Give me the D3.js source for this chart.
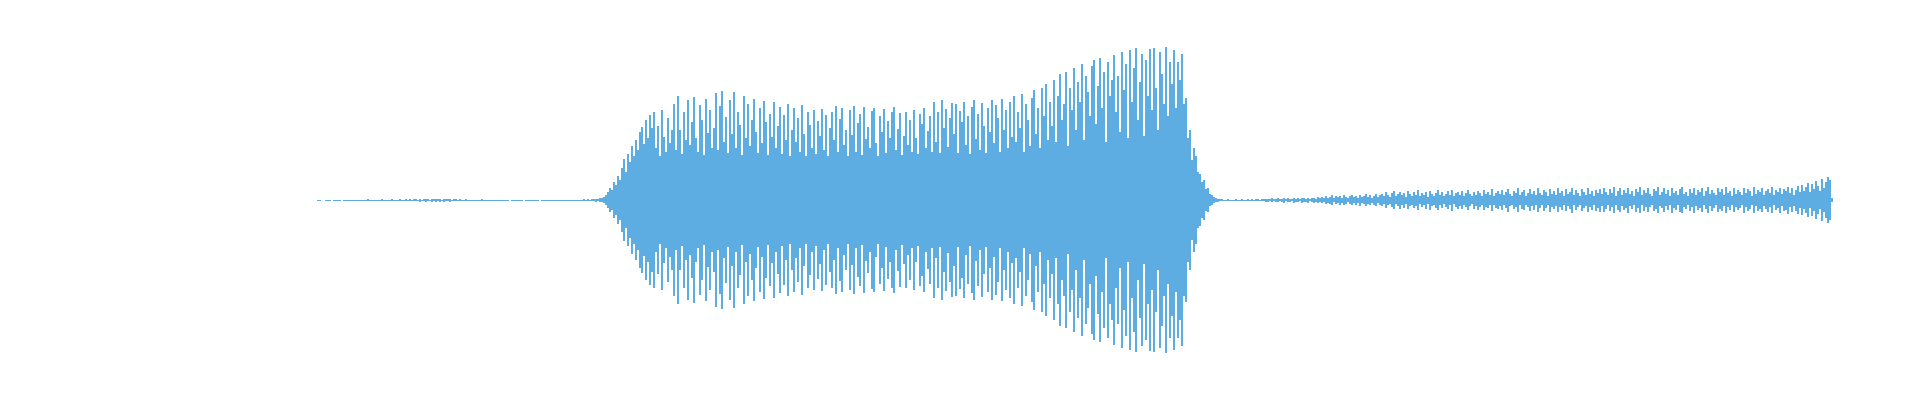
<!DOCTYPE html>
<html>
<head>
<meta charset="utf-8">
<script src="https://cdn.jsdelivr.net/npm/d3@7"></script>
<style>
  html, body { margin: 0; padding: 0; background: #ffffff; }
</style>
</head>
<body>
<div id="wave"></div>
<script>
// peak amplitude of each waveform column (px at 1:1)
var leadIn = [
    0.5, 0.5, 0, 0, 0.5, 0.5, 0.5, 0, 0.5, 0.5, 0.5, 0.5, 0, 0.5, 0.5, 0.5, 0.5, 0.5, 0.5, 0.5,
    0.5, 0.5, 0.5, 0.5, 0.5, 1, 0.5, 0.5, 0.5, 0.5, 0.5, 0.5, 1, 0.5, 0.5, 0.5, 0.5, 1, 0.5, 0.5,
    0.5, 1, 0.5, 0.5, 1, 0.5, 1, 0.5, 1, 1, 0.5, 1.5, 0.5, 1, 1.5, 1, 0.5, 1.5, 1, 1.5,
    1, 1.5, 0.5, 1.5, 1, 1, 1.5, 0.5, 1, 1, 0.5, 1, 0.5, 0.5, 1, 0.5, 0.5, 0.5, 0.5, 0.5,
    0.5, 0.5, 1, 0.5, 0.5, 0.5, 0.5, 0.5, 0.5, 0.5, 0.5, 0.5, 0.5, 0.5, 0.5, 0.5, 0, 0.5, 0.5, 0.5,
    0.5, 0.5, 0.5, 0, 0.5, 0.5, 0.5, 0.5, 0.5, 0.5, 0.5, 0, 0.5, 0.5, 0.5, 0.5, 0.5, 0.5, 0.5, 0.5,
    0.5, 0.5, 0.5, 0.5, 0.5, 0.5, 0.5, 0.5, 0.5, 0.5, 0.5, 0.5, 0.5, 1, 0.5, 1, 0.5, 1, 1, 1.5, 1, 2
];

var attack = [
    2, 3, 5, 8, 12, 10, 18, 15, 24, 20, 32, 41, 28, 46, 38, 54, 44, 60, 50, 68, 73, 56, 80, 62, 85, 72
];

var body = [
    88, 52, 74, 44, 90, 63, 48, 82, 57, 70,
    96, 50, 104, 70, 46, 88, 60, 100, 55, 78,
    103, 62, 48, 95, 80, 45, 101, 67, 90, 52,
    72, 107, 50, 94, 109, 58, 83, 47, 100, 66,
    108, 52, 88, 75, 45, 104, 62, 96, 54, 80,
    101, 68, 47, 92, 57, 99, 78, 45, 86, 63,
    98, 52, 74, 93, 46, 85, 60, 96, 44, 70,
    92, 58, 82, 48, 95, 66, 44, 88, 75, 52,
    90, 46, 79, 64, 91, 50, 85, 44, 72, 88,
    60, 94, 48, 81, 92, 55, 70, 44, 90, 65,
    94, 48, 77, 86, 45, 93, 61, 73, 52, 89,
    92, 57, 44, 84, 68, 91, 47, 79, 62, 88,
    93, 50, 71, 87, 45, 64, 88, 55, 80, 48,
    90, 62, 46, 86, 76, 92, 52, 69, 84, 48,
    98, 58, 88, 47, 100, 72, 91, 53, 82, 97,
    66, 96, 47, 89, 78, 98, 55, 84, 46, 93,
    100, 61, 86, 50, 97, 74, 47, 92, 68, 100,
    57, 95, 82, 48, 101, 70, 90, 52, 98, 63,
    104, 58, 88, 72, 106, 48, 96, 80, 54, 102,
    110, 66, 92, 52, 112, 84, 116, 60, 98, 74,
    120, 58, 104, 126, 80, 96, 128, 54, 112, 90,
    132, 70, 118, 98, 136, 60, 124, 108, 84, 134,
    140, 76, 114, 142, 92, 128, 58, 138, 104, 120,
    145, 88, 124, 68, 148, 110, 136, 62, 150, 98,
    132, 152, 80, 118, 146, 64, 140, 104, 151, 90,
    152, 112, 70, 148, 126, 96, 153, 84, 138, 116,
    150, 92, 138, 120
];

var release = [
    146, 96, 102, 62, 70, 40, 52, 44, 28, 26, 18, 20, 11, 12, 6, 5, 3, 2, 1.5, 1
];

var tail = [
    1, 0.5, 0.5, 1, 0.5, 0.5, 0.5, 1, 0.5, 0.5, 1, 0.5, 0.5, 1, 0.5, 1, 0.5, 1, 1, 0.5, 1, 1, 1.5,
    1.5, 1, 2, 1, 1.5, 2, 1, 1.5, 2.5, 1, 2, 1.5, 1, 2.5, 1.5, 2, 1, 2.5, 2, 1.5, 2.5, 1, 2, 2.5, 1.5, 3, 2,
    3, 2, 4, 2.5, 3.5, 5, 2, 4, 3, 4.5, 2.5, 5, 3.5, 2, 4, 5, 3, 4.5, 2.5, 5.5, 3, 4, 6, 3.5, 5, 2.5, 4.5, 6, 3, 5,
    6, 4, 8, 5, 3.5, 7, 9, 4, 6, 8.5,
    5, 7.5, 3.5, 9, 6, 4.5, 8, 5.5, 10, 4,
    7, 5, 8.5, 3.5, 9.5, 6, 4.5, 7.5, 10, 5,
    8, 4, 6.5, 9, 5, 10.5, 4, 7, 8.5, 5.5,
    9, 4.5, 7, 10, 6, 4, 8.5, 5.5, 9.5, 7,
    4.5, 10, 6.5, 8, 5, 11, 4.5, 7.5, 9, 6,
    10, 5, 8, 11.5, 6, 4.5, 9, 7, 12, 5,
    8.5, 10, 4.5, 7, 11, 6, 9.5, 5, 12, 7.5,
    5, 10.5, 8, 4.5, 11.5, 6.5, 9, 5.5, 12, 7,
    9.5, 4.5, 11, 6, 8.5, 12.5, 5, 10, 7, 4.5,
    11, 8, 5.5, 12, 6.5, 9.5, 4.5, 10.5, 7.5, 11.5,
    6, 12, 8.5, 5, 11, 7, 13, 4.5, 9.5, 12,
    5.5, 10, 7.5, 12.5, 6, 9, 4.5, 11.5, 8, 13,
    5, 10.5, 7, 12, 6.5, 4.5, 11, 9, 13, 5.5,
    8, 12, 6, 10, 4.5, 12.5, 7.5, 9.5, 5, 11.5,
    13, 6.5, 8.5, 4.5, 11, 7, 12.5, 5.5, 10, 8,
    12, 4.5, 9, 13, 6, 10.5, 7.5, 5, 12, 8.5,
    11, 5.5, 13, 7, 9.5, 4.5, 12, 6.5, 10, 8,
    5, 12.5, 7, 11, 9, 4.5, 13, 6, 10.5, 8.5,
    12, 5.5, 9, 11.5, 7, 13, 5, 10, 8, 12.5,
    6, 11, 9.5, 13.5, 7, 12, 5.5, 10.5, 14, 8,
    15, 9, 13, 17, 8, 16, 11, 19, 14, 9, 21, 12, 18, 23, 20, 2
];

var peaks = leadIn.concat(attack, body, release, tail);

var width = 1920,
    height = 400;

var svg = d3.select("#wave")
    .append("svg")
    .attr("width", width)
    .attr("height", height)
    .style("display", "block");

var x = d3.scaleBand()
    .domain(d3.range(peaks.length))
    .range([317, 317 + 2 * peaks.length])
    .padding(0);

var y = d3.scaleLinear()
    .domain([-160, 160])
    .range([360, 40]);

// keep the column index with each value so silent columns leave a gap
var columns = peaks.map(function(v, i) {
    return { i: i, v: v };
}).filter(function(d) {
    return d.v > 0;
});

svg.append("g")
    .attr("shape-rendering", "crispEdges")
    .selectAll("rect")
    .data(columns)
    .enter()
    .append("rect")
    .attr("x", function(d) { return x(d.i); })
    .attr("width", x.bandwidth())
    .attr("y", function(d) { return y(d.v); })
    .attr("height", function(d) { return Math.max(1, y(-d.v) - y(d.v)); })
    .attr("fill", "#5dade2");
</script>
</body>
</html>
